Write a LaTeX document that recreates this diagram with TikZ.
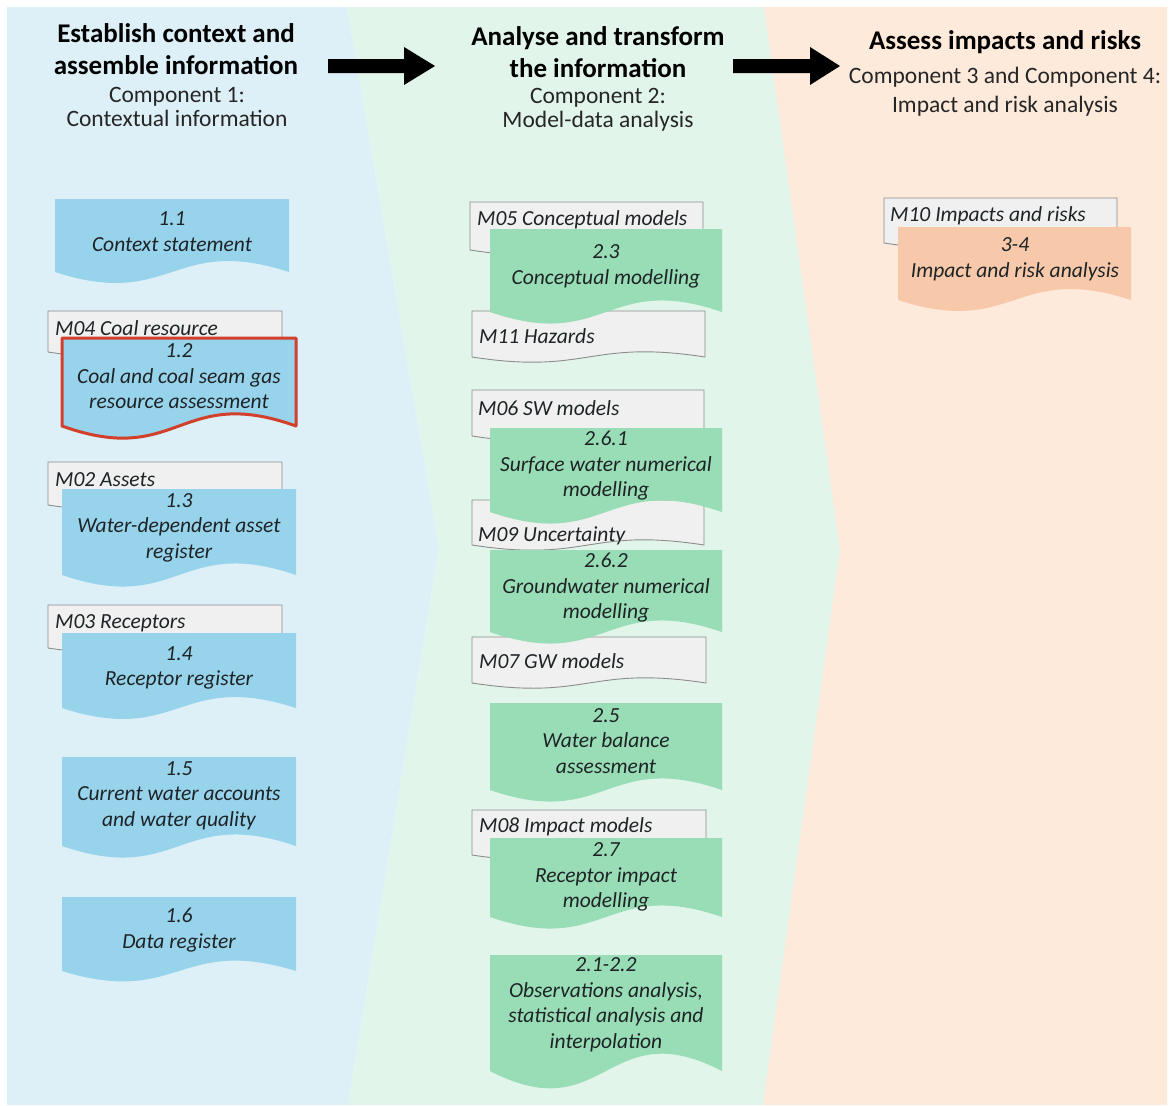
\documentclass[tikz,border=0pt]{standalone}
\usepackage{fontspec}
\setmainfont{Carlito}
\definecolor{bgblue}{HTML}{DDF0F8}
\definecolor{bggreen}{HTML}{E2F5EB}
\definecolor{bgorange}{HTML}{FDEADB}
\definecolor{boxblue}{HTML}{97D3EB}
\definecolor{boxgreen}{HTML}{98DDB6}
\definecolor{boxorange}{HTML}{F7C9AA}
\definecolor{greyfill}{HTML}{F0F0F0}
\definecolor{greyline}{HTML}{8C8C8C}
\definecolor{redline}{HTML}{D2402C}
\definecolor{txtcol}{HTML}{1E2326}
\newcommand{\docshape}[6]{% style, x1, y1, x2, yb, A
  \path[#1] (#2,#3) -- (#4,#3) -- (#4,#5) .. controls ({(#2+#4)/2},{#5-#6}) and ({(#2+#4)/2},{#5+#6}) .. (#2,#5) -- cycle;}
\tikzset{
  greydoc/.style={fill=greyfill, draw=greyline, line width=0.9pt},
  bluedoc/.style={fill=boxblue},
  greendoc/.style={fill=boxgreen},
  orangedoc/.style={fill=boxorange},
  reddoc/.style={fill=boxblue, draw=redline, line width=3pt, line join=round},
  boxtxt/.style={align=center, inner sep=0pt, text=txtcol, font=\fontsize{21.5}{25.5}\selectfont\itshape},
  greytxt/.style={anchor=west, inner sep=0pt, text=txtcol, font=\fontsize{21.5}{25.5}\selectfont\itshape},
  headbold/.style={align=center, inner sep=0pt, font=\fontsize{27}{32}\selectfont\bfseries},
  headsub/.style={align=center, inner sep=0pt, text=black!85, font=\fontsize{23.5}{24}\selectfont},
  bigarrow/.style={fill=black}
}
\begin{document}
\begin{tikzpicture}[x=1pt,y=-1pt]
\useasboundingbox (0,0) rectangle (1173,1106);
\fill[white] (0,0) rectangle (1173,1106);
% background panels
\fill[bgblue] (7,7) -- (347,7) -- (439,548) -- (348,1105) -- (7,1105) -- cycle;
\fill[bggreen] (347,7) -- (764,7) -- (840,550) -- (763,1105) -- (348,1105) -- (439,548) -- cycle;
\fill[bgorange] (764,7) -- (1167,7) -- (1167,1105) -- (763,1105) -- (840,550) -- cycle;
% big arrows
\fill[bigarrow] (328,59) -- (404,59) -- (404,47) -- (435,66) -- (404,85) -- (404,73) -- (328,73) -- cycle;
\fill[bigarrow] (733,59) -- (810,59) -- (810,47) -- (840,66) -- (810,85) -- (810,73) -- (733,73) -- cycle;
% headers
\node[headbold] (h1) at (176,49) {Establish context and\\assemble information};
\node[headsub] (s1) at (177,107) {Component 1:\\Contextual information};
\node[headbold] (h2) at (598,52.5) {Analyse and transform\\the information};
\node[headsub] (s2) at (598,110) {Component 2:\\Model-data analysis};
\node[headbold] (h3) at (1005,42) {Assess impacts and risks};
\node[headsub, font=\fontsize{23.5}{29}\selectfont] (s3) at (1005,92) {Component 3 and Component 4:\\Impact and risk analysis};
% grey documents
\docshape{greydoc}{48}{311}{282}{352}{18}
\docshape{greydoc}{48}{462}{282}{505}{18}
\docshape{greydoc}{48}{605}{282}{648}{18}
\docshape{greydoc}{470}{202}{703}{250}{18}
\docshape{greydoc}{472}{311}{705}{357}{18}
\docshape{greydoc}{472}{390}{704}{436}{18}
\docshape{greydoc}{472}{500}{704}{545}{18}
\docshape{greydoc}{472}{637}{706}{683}{18}
\docshape{greydoc}{472}{810}{706}{855}{18}
\docshape{greydoc}{884}{198}{1117}{243}{18}
% coloured documents
\docshape{bluedoc}{55}{199}{289}{272}{38}
\docshape{reddoc}{62}{338}{296}{426}{42}
\docshape{bluedoc}{62}{489}{296}{575}{40}
\docshape{bluedoc}{62}{633}{296}{708}{38}
\docshape{bluedoc}{62}{757}{296}{846}{40}
\docshape{bluedoc}{62}{897}{296}{971}{36}
\docshape{greendoc}{490}{229}{722}{312}{40}
\docshape{greendoc}{490}{428}{722}{512}{40}
\docshape{greendoc}{490}{550}{722}{632}{40}
\docshape{greendoc}{490}{703}{722}{790}{40}
\docshape{greendoc}{490}{838}{722}{917}{40}
\docshape{greendoc}{490}{955}{722}{1071}{60}
\docshape{orangedoc}{898}{227}{1131}{300}{38}
% grey document labels
\node[greytxt] (m04) at (55,328) {M04 Coal resource};
\node[greytxt] (m02) at (55,480) {M02 Assets};
\node[greytxt] (m03) at (55,623) {M03 Receptors};
\node[greytxt] (m05) at (477,220) {M05 Conceptual models};
\node[greytxt] (m11) at (479,336) {M11 Hazards};
\node[greytxt] (m06) at (478,408) {M06 SW models};
\node[greytxt] (m09) at (478,536) {M09 Uncertainty};
\node[greytxt] (m07) at (479,661) {M07 GW models};
\node[greytxt] (m08) at (479,827) {M08 Impact models};
\node[greytxt] (m10) at (890,216) {M10 Impacts and risks};
% coloured document labels
\node[boxtxt] (t11) at (172,231.5) {1.1\\Context statement};
\node[boxtxt] (t12) at (179,376.5) {1.2\\Coal and coal seam gas\\resource assessment};
\node[boxtxt] (t13) at (179,527.5) {1.3\\Water-dependent asset\\register};
\node[boxtxt] (t14) at (179,668) {1.4\\Receptor register};
\node[boxtxt] (t15) at (179,795.5) {1.5\\Current water accounts\\and water quality};
\node[boxtxt] (t16) at (179,930) {1.6\\Data register};
\node[boxtxt] (t23) at (606,266.5) {2.3\\Conceptual modelling};
\node[boxtxt] (t261) at (606,466) {2.6.1\\Surface water numerical\\modelling};
\node[boxtxt] (t262) at (606,588) {2.6.2\\Groundwater numerical\\modelling};
\node[boxtxt] (t25) at (606,741) {2.5\\Water balance\\assessment};
\node[boxtxt] (t27) at (606,877) {2.7\\Receptor impact\\modelling};
\node[boxtxt] (t2122) at (606,1004.5) {2.1-2.2\\Observations analysis,\\statistical analysis and\\interpolation};
\node[boxtxt] (t34) at (1015,259.5) {3-4\\Impact and risk analysis};
\end{tikzpicture}
\end{document}
